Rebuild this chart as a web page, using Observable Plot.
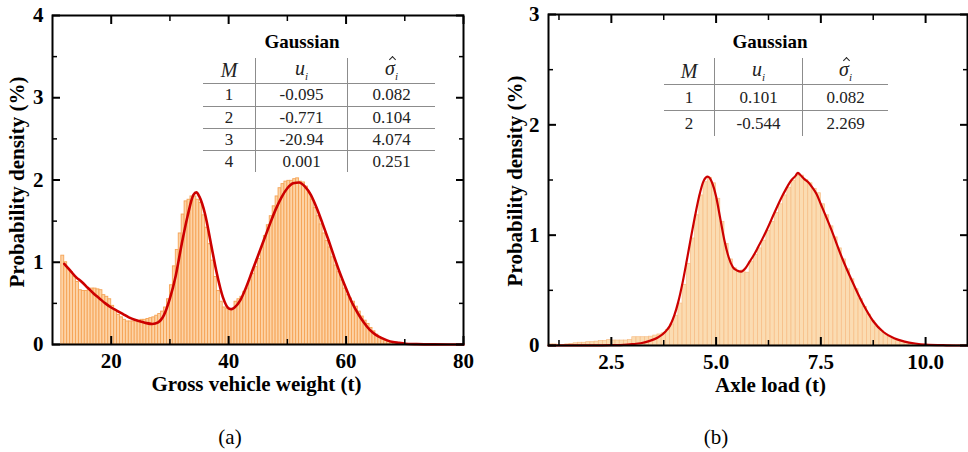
<!DOCTYPE html>
<html><head><meta charset="utf-8">
<script src="https://cdn.jsdelivr.net/npm/d3@7"></script>
<script src="https://cdn.jsdelivr.net/npm/@observablehq/plot@0.6"></script>
<style>
body{margin:0;background:#fff;}
#wrap{position:relative;width:968px;height:452px;overflow:hidden;font-family:"Liberation Serif","Times New Roman",serif;color:#000;}
.panel{position:absolute;top:0;}
.cap{position:absolute;font-size:21px;transform:translate(-50%,-50%);white-space:nowrap;}
.ttl{position:absolute;font-size:19px;font-weight:bold;transform:translate(-50%,-50%);white-space:nowrap;}
table.tbl{position:absolute;border-collapse:collapse;font-size:17px;color:#222;}
table.tbl td{padding:0;text-align:center;vertical-align:middle;line-height:1;}
table.tbl tr+tr td{border-top:1px solid #8c8c8c;}
table.tbl td+td{border-left:1px solid #8c8c8c;}
table.tbl tr.hd td{font-size:20px;font-style:italic;}
table.tbl sub{font-size:11px;vertical-align:-5px;font-style:italic;}
.hat{position:relative;display:inline-block;}
.hat .h{position:absolute;left:5px;top:-1px;width:4px;height:4px;border-left:1px solid #222;border-top:1px solid #222;transform:rotate(45deg);}
</style></head>
<body><div id="wrap"></div>
<script>
// ---------- data: panel (a) gross vehicle weight ----------
const gvwBinStart = 11.5;
const gvwBinWidth = 0.5;
const gvwDensity = [
 1.08,1.00,0.92,0.88,0.82,0.76,0.66,0.65,0.65,0.66,0.68,0.68,0.67,0.66,0.60,0.58,0.55,0.47,0.42,0.36,
 0.33,0.30,0.28,0.28,0.28,0.29,0.29,0.30,0.30,0.31,0.32,0.33,0.35,0.37,0.40,0.45,0.55,0.72,0.95,1.15,
 1.35,1.58,1.74,1.76,1.80,1.80,1.76,1.72,1.57,1.42,1.22,1.02,0.82,0.65,0.52,0.45,0.43,0.42,0.43,0.52,
 0.55,0.58,0.64,0.68,0.78,0.86,0.94,1.04,1.18,1.32,1.45,1.56,1.68,1.80,1.90,1.95,1.98,1.99,1.99,2.01,
 2.02,1.98,1.97,1.92,1.84,1.76,1.66,1.56,1.46,1.35,1.26,1.18,1.06,0.96,0.88,0.78,0.68,0.60,0.56,0.52,
 0.46,0.40,0.34,0.29,0.25,0.20,0.16,0.12,0.09,0.06,0.045,0.03,0.02,0.015,0.01,0.008,0.005
];
const gvwCurveX = [12,13,14,15,16,17,18,19,20,21,22,23,24,25,26,27,28,29,30,31,32,33,34,34.5,35,36,37,38,39,40,40.5,41,42,43,44,45,46,47,48,49,50,51,52,53,54,55,56,57,58,59,60,61,62,63,64,65,66,67,68,69,70,72,75,80];
const gvwCurveY = [0.98,0.90,0.82,0.76,0.69,0.62,0.56,0.50,0.45,0.41,0.37,0.33,0.30,0.28,0.26,0.25,0.27,0.36,0.56,0.84,1.22,1.56,1.82,1.85,1.80,1.58,1.22,0.86,0.58,0.44,0.43,0.45,0.54,0.70,0.89,1.08,1.27,1.46,1.64,1.79,1.90,1.96,1.97,1.92,1.82,1.66,1.47,1.27,1.06,0.86,0.68,0.51,0.38,0.27,0.18,0.12,0.08,0.05,0.03,0.02,0.01,0.004,0.001,0];
const gvwXTicks = [20,40,60,80];
const gvwXMinor = [30,50,70];
const gvwYTicks = [0,1,2,3,4];
const gvwYMinor = [0.5,1.5,2.5,3.5];
const gvwM = ["1","2","3","4"];
const gvwU = ["-0.095","-0.771","-20.94","0.001"];
const gvwSigma = ["0.082","0.104","4.074","0.251"];

// ---------- data: panel (b) axle load ----------
const axleBinStart = 1.0;
const axleBinWidth = 0.1;
const axleDensity = [
 0.01,0.01,0.005,0.005,0.01,0.015,0.02,0.025,0.025,0.03,
 0.03,0.035,0.04,0.04,0.05,0.045,0.045,0.045,0.045,0.05,
 0.075,0.075,0.075,0.075,0.08,0.09,0.10,0.11,0.14,0.19,
 0.27,0.38,0.55,0.74,0.97,1.18,1.36,1.48,1.52,1.47,
 1.33,1.12,0.92,0.78,0.70,0.67,0.68,0.66,0.76,0.82,
 0.88,0.95,1.04,1.12,1.20,1.28,1.36,1.43,1.49,1.54,
 1.54,1.50,1.47,1.42,1.38,1.28,1.18,1.08,0.98,0.88,
 0.78,0.69,0.60,0.51,0.42,0.35,0.28,0.22,0.17,0.13,
 0.10,0.075,0.055,0.04,0.03,0.022,0.016,0.012,0.009,0.006,
 0.004,0.003,0.003,0.002,0.002,0.002,0.001,0.001,0.001,0.001
];
const axleCurveX = [1,2,2.5,2.8,3,3.2,3.4,3.6,3.8,3.9,4,4.1,4.2,4.3,4.4,4.5,4.6,4.7,4.8,4.9,5,5.1,5.2,5.3,5.4,5.5,5.6,5.7,5.8,5.9,6,6.2,6.4,6.6,6.8,6.9,6.95,7,7.1,7.2,7.3,7.4,7.5,7.75,8,8.25,8.5,8.75,9,9.25,9.5,9.75,10,10.5,11];
const axleCurveY = [0,0.001,0.003,0.006,0.012,0.02,0.04,0.07,0.13,0.18,0.27,0.40,0.57,0.77,0.98,1.18,1.36,1.49,1.53,1.48,1.35,1.15,0.95,0.80,0.71,0.68,0.67,0.70,0.76,0.82,0.89,1.04,1.21,1.37,1.50,1.54,1.565,1.55,1.51,1.48,1.43,1.37,1.28,1.05,0.80,0.58,0.38,0.22,0.12,0.065,0.035,0.018,0.008,0.002,0];
const axleXTicks = [2.5,5,7.5,10];
const axleXMinor = [1.25,3.75,6.25,8.75];
const axleYTicks = [0,1,2,3];
const axleYMinor = [0.5,1.5,2.5];
const axleM = ["1","2"];
const axleU = ["0.101","-0.544"];
const axleSigma = ["0.082","2.269"];

const bins = (start, w, vals) => vals.map((v, i) => ({x1: start + i * w, x2: start + (i + 1) * w, y: v}));
const pts = (xs, ys) => xs.map((x, i) => ({x, y: ys[i]}));

function frameAxes(xMaj, xMin, yMaj, yMin, xFmt) {
  return [
    Plot.axisX(xMaj, {anchor: "bottom", tickSize: -8, tickPadding: 17, tickFormat: xFmt, label: null, strokeWidth: 2}),
    Plot.axisX(xMin, {anchor: "bottom", tickSize: -5, text: null, label: null, strokeWidth: 1.5}),
    Plot.axisX(xMaj, {anchor: "top", tickSize: -8, text: null, label: null, strokeWidth: 2}),
    Plot.axisX(xMin, {anchor: "top", tickSize: -5, text: null, label: null, strokeWidth: 1.5}),
    Plot.axisY(yMaj, {anchor: "left", tickSize: -8, tickPadding: 17, tickFormat: d => String(d), label: null, strokeWidth: 2}),
    Plot.axisY(yMin, {anchor: "left", tickSize: -5, text: null, label: null, strokeWidth: 1.5}),
    Plot.axisY(yMaj, {anchor: "right", tickSize: -8, text: null, label: null, strokeWidth: 2}),
    Plot.axisY(yMin, {anchor: "right", tickSize: -5, text: null, label: null, strokeWidth: 1.5}),
    Plot.frame({stroke: "#000", strokeWidth: 2})
  ];
}

const style = {fontFamily: "'Liberation Serif','Times New Roman',serif", fontSize: "21px", fontWeight: "bold", background: "transparent", color: "#000", overflow: "visible"};

const plotA = Plot.plot({
  width: 480, height: 400,
  marginLeft: 52, marginRight: 17, marginTop: 15, marginBottom: 56,
  style,
  x: {domain: [10, 80]},
  y: {domain: [0, 4]},
  marks: [
    Plot.rectY(bins(gvwBinStart, gvwBinWidth, gvwDensity), {x1: "x1", x2: "x2", y: "y", fill: "#fdd3a6", stroke: "#f5a355", strokeWidth: 0.9}),
    Plot.line(pts(gvwCurveX, gvwCurveY), {x: "x", y: "y", stroke: "#cc0000", strokeWidth: 2.6, curve: "monotone-x"}),
    ...frameAxes(gvwXTicks, gvwXMinor, gvwYTicks, gvwYMinor, d => String(d)),
    Plot.text(["Gross vehicle weight (t)"], {text: d => d, frameAnchor: "bottom", textAnchor: "middle", dy: 46, dx: -1.5}),
    Plot.text(["Probability density (%)"], {text: d => d, frameAnchor: "left", textAnchor: "middle", rotate: -90, dx: -35, dy: 2})
  ]
});

const plotB = Plot.plot({
  width: 488, height: 400,
  marginLeft: 68, marginRight: 1, marginTop: 14, marginBottom: 55,
  style,
  x: {domain: [1, 11]},
  y: {domain: [0, 3]},
  marks: [
    Plot.rectY(bins(axleBinStart, axleBinWidth, axleDensity), {x1: "x1", x2: "x2", y: "y", fill: "#fbdcb2", stroke: "#f7bd85", strokeWidth: 0.7}),
    Plot.line(pts(axleCurveX, axleCurveY), {x: "x", y: "y", stroke: "#cc0000", strokeWidth: 2.2, curve: "monotone-x"}),
    ...frameAxes(axleXTicks, axleXMinor, axleYTicks, axleYMinor, d => d.toFixed(1)),
    Plot.text(["Axle load (t)"], {text: d => d, frameAnchor: "bottom", textAnchor: "middle", dy: 46, dx: 12.5}),
    Plot.text(["Probability density (%)"], {text: d => d, frameAnchor: "left", textAnchor: "middle", rotate: -90, dx: -33, dy: 1})
  ]
});

const wrap = document.getElementById("wrap");
function addPanel(svg, left) {
  const d = document.createElement("div");
  d.className = "panel"; d.style.left = left + "px";
  d.appendChild(svg); wrap.appendChild(d);
}
addPanel(plotA, 0);
addPanel(plotB, 480);

function addDiv(cls, html, x, y) {
  const d = document.createElement("div");
  d.className = cls; d.innerHTML = html;
  d.style.left = x + "px"; d.style.top = y + "px";
  wrap.appendChild(d);
}
function addTable(left, top, colW, rowH, M, U, S) {
  const t = document.createElement("table");
  t.className = "tbl"; t.style.left = left + "px"; t.style.top = top + "px";
  const rows = [["<i>M</i>", "<i>u</i><sub>i</sub>", "<span class='hat'><i>σ</i><span class='h'></span></span><sub>i</sub>"]].concat(M.map((m, i) => [m, U[i], S[i]]));
  rows.forEach((r, ri) => {
    const tr = document.createElement("tr");
    if (ri === 0) tr.className = "hd";
    tr.style.height = rowH[ri] + "px";
    r.forEach((c, ci) => {
      const td = document.createElement("td");
      td.style.width = colW[ci] + "px";
      td.innerHTML = c;
      tr.appendChild(td);
    });
    t.appendChild(tr);
  });
  wrap.appendChild(t);
}
addDiv("ttl", "Gaussian", 302, 42);
addTable(203, 58, [52, 91, 87], [25, 23, 22, 22, 22], gvwM, gvwU, gvwSigma);
addDiv("ttl", "Gaussian", 770, 42);
addTable(664, 58, [50, 87, 85], [26, 26, 26], axleM, axleU, axleSigma);

addDiv("cap", "(a)", 230, 437);
addDiv("cap", "(b)", 716, 437);
</script>
</body></html>
